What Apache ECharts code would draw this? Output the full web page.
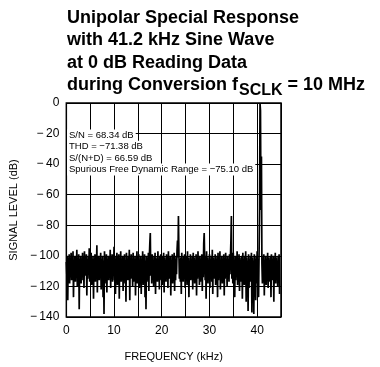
<!DOCTYPE html>
<html>
<head>
<meta charset="utf-8">
<script src="https://cdn.jsdelivr.net/npm/echarts@6/dist/echarts.min.js"></script>
<style>
  html, body { margin: 0; padding: 0; background: #fff; }
  #chart { width: 380px; height: 367px; }
</style>
</head>
<body>
<div id="chart"></div>
<script>
// spectrum bins, 0.1 kHz apart, starting at 0 kHz (one row per kHz)
const FREQ_STEP = 0.1;
const LEVEL_DB = [
  -104,-112,-100,-129,-101,-115,-99,-118,-103,-110,
  -98,-116,-102,-111,-97,-127,-104,-113,-100,-117,
  -101,-109,-96,-120,-103,-114,-99,-135,-102,-112,
  -100,-118,-104,-111,-98,-116,-101,-121,-97,-113,
  -103,-110,-99,-126,-102,-115,-100,-112,-95,-117,
  -101,-113,-98,-119,-104,-111,-100,-128,-102,-114,
  -99,-117,-103,-110,-93,-124,-101,-112,-100,-116,
  -104,-111,-98,-122,-102,-115,-100,-127,-103,-138,
  -97,-118,-101,-113,-99,-124,-102,-110,-100,-116,
  -103,-112,-96,-121,-101,-114,-99,-117,-102,-111,
  -94,-116,-100,-125,-103,-112,-98,-119,-101,-113,
  -99,-128,-102,-111,-97,-117,-104,-113,-100,-123,
  -101,-114,-99,-118,-103,-130,-98,-112,-102,-116,
  -100,-111,-96,-129,-101,-115,-99,-113,-103,-120,
  -98,-117,-102,-112,-100,-126,-104,-114,-97,-118,
  -101,-113,-99,-121,-103,-111,-100,-125,-102,-116,
  -97,-119,-101,-112,-99,-127,-103,-135,-100,-117,
  -102,-111,-98,-123,-101,-92,-85,-113,-100,-118,
  -99,-114,-103,-120,-100,-112,-98,-125,-102,-115,
  -101,-117,-97,-113,-103,-122,-100,-111,-99,-116,
  -102,-119,-100,-112,-98,-124,-101,-114,-103,-117,
  -99,-113,-101,-121,-97,-115,-102,-112,-100,-126,
  -103,-114,-99,-118,-101,-111,-98,-123,-102,-116,
  -100,-112,-97,-90,-101,-74,-99,-115,-102,-117,
  -101,-125,-98,-113,-103,-117,-100,-112,-99,-121,
  -102,-114,-100,-119,-97,-111,-101,-127,-103,-115,
  -99,-116,-102,-112,-100,-122,-98,-114,-101,-118,
  -103,-113,-99,-126,-101,-115,-97,-112,-102,-119,
  -100,-117,-103,-111,-99,-123,-101,-114,-92,-85,
  -102,-116,-100,-128,-97,-113,-101,-118,-103,-112,
  -99,-121,-102,-114,-100,-117,-96,-125,-101,-113,
  -103,-115,-99,-119,-102,-112,-100,-127,-98,-116,
  -101,-113,-97,-122,-103,-114,-100,-118,-102,-111,
  -99,-126,-101,-115,-98,-113,-103,-120,-100,-114,
  -102,-117,-99,-112,-101,-90,-74,-115,-100,-118,
  -98,-113,-103,-127,-100,-116,-101,-112,-97,-119,
  -102,-114,-99,-123,-101,-117,-103,-111,-100,-128,
  -98,-115,-102,-119,-100,-113,-97,-130,-101,-116,
  -103,-136,-99,-121,-102,-117,-100,-114,-98,-137,
  -101,-116,-103,-138,-99,-113,-102,-129,-100,-118,
  -97,-115,-102,-127,-100,-70,0,-5,-70,-35,
  -105,-118,-101,-113,-99,-126,-103,-115,-100,-119,
  -102,-114,-98,-121,-101,-117,-103,-112,-100,-127,
  -99,-116,-102,-113,-100,-130,-101,-115,-98,-118,
  -101,-114,-103,-120,-100,-117,-99,-125
];

const TITLE_LINES = [
  'Unipolar Special Response',
  'with 41.2 kHz Sine Wave',
  'at 0 dB Reading Data'
];
const TITLE_LAST = ['during Conversion f', 'SCLK', ' = 10 MHz'];

const NOTES = [
  'S/N = 68.34 dB',
  'THD = \u221271.38 dB',
  'S/(N+D) = 66.59 dB',
  'Spurious Free Dynamic Range = \u221275.10 dB'
];

const X_NAME = 'FREQUENCY (kHz)';
const Y_NAME = 'SIGNAL LEVEL (dB)';

const points = LEVEL_DB.map((v, i) => [i * FREQ_STEP, v]);

const titleFont = 'bold 18px "Liberation Sans"';
const subFont = 'bold 16px "Liberation Sans"';
const noteFont = '9.5px "Liberation Sans"';

const ctx = document.createElement('canvas').getContext('2d');
const measure = (text, font) => { ctx.font = font; return ctx.measureText(text).width; };

const titleX = 67;
const graphics = TITLE_LINES.map((t, i) => ({
  type: 'text', x: titleX, y: 18 + i * 22.5, z: 100,
  style: { text: t, font: titleFont, fill: '#000', verticalAlign: 'middle' }
}));
const w0 = measure(TITLE_LAST[0], titleFont);
const w1 = measure(TITLE_LAST[1], subFont);
graphics.push(
  { type: 'text', x: titleX, y: 85.5, z: 100,
    style: { text: TITLE_LAST[0], font: titleFont, fill: '#000', verticalAlign: 'middle' } },
  { type: 'text', x: titleX + w0 + 1, y: 91, z: 100,
    style: { text: TITLE_LAST[1], font: subFont, fill: '#000', verticalAlign: 'middle' } },
  { type: 'text', x: titleX + w0 + w1 + 1, y: 85.5, z: 100,
    style: { text: TITLE_LAST[2], font: titleFont, fill: '#000', verticalAlign: 'middle' } }
);
NOTES.forEach((t, i) => {
  graphics.push({
    type: 'text', x: 67, y: 135.5 + i * 11.3, z: 100,
    style: { text: t, font: noteFont, fill: '#000', verticalAlign: 'middle',
             backgroundColor: '#fff', padding: [1, 2, 1, 2] }
  });
});

const tickFmt = v => (v < 0 ? '\u2212\u2009' + Math.abs(v) : String(v));

const chart = echarts.init(document.getElementById('chart'), null, { renderer: 'canvas' });
chart.setOption({
  animation: false,
  backgroundColor: '#fff',
  grid: {
    left: 64, top: 103, width: 217, height: 217,
    show: true, borderColor: '#000', borderWidth: 1.5
  },
  xAxis: {
    type: 'value', min: 0, max: 45, interval: 5,
    name: X_NAME, nameLocation: 'middle', nameGap: 34,
    nameTextStyle: { fontFamily: 'Liberation Sans', fontSize: 11, color: '#000' },
    axisLine: { show: false },
    axisTick: { show: false },
    axisLabel: {
      margin: 8, color: '#000', fontFamily: 'Liberation Sans', fontSize: 12,
      formatter: v => (v % 10 === 0 ? String(v) : '')
    },
    splitLine: { show: true, lineStyle: { color: '#000', width: 1 } }
  },
  yAxis: {
    type: 'value', min: -140, max: 0, interval: 20,
    name: Y_NAME, nameLocation: 'middle', nameGap: 40,
    nameTextStyle: { fontFamily: 'Liberation Sans', fontSize: 11, color: '#000' },
    axisLine: { show: false },
    axisTick: { show: false },
    axisLabel: {
      margin: 7, color: '#000', fontFamily: 'Liberation Sans', fontSize: 12,
      formatter: tickFmt
    },
    splitLine: { show: true, lineStyle: { color: '#000', width: 1 } }
  },
  series: [{
    type: 'line',
    data: points,
    showSymbol: false,
    symbol: 'none',
    lineStyle: { color: '#000', width: 1.7 },
    z: 3
  }],
  graphic: graphics
});
</script>
</body>
</html>
